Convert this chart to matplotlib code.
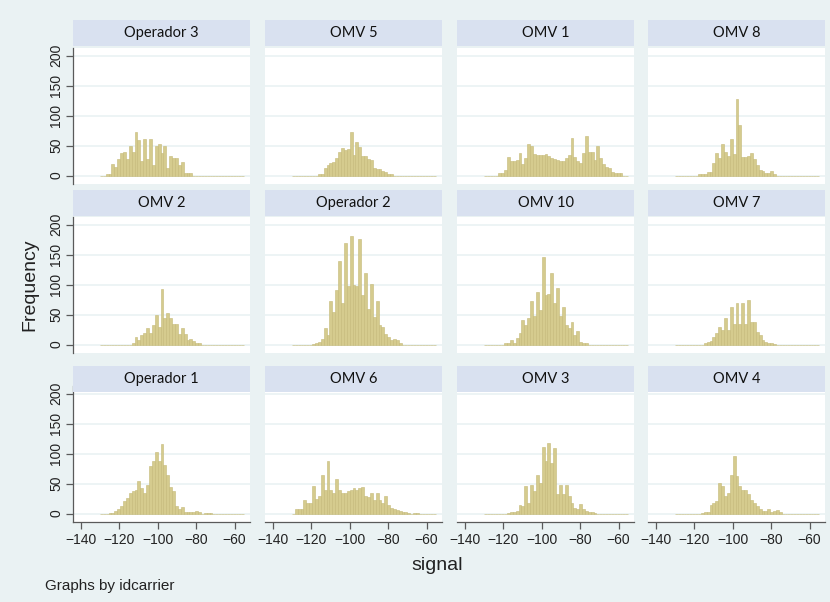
import numpy as np
import matplotlib
matplotlib.use("Agg")
import matplotlib.pyplot as plt

# Histogram bins shared by every panel (signal, dBm)
bin_start = -130.0
bin_width = 1.5
n_bins = 50

panel_titles = ["Operador 3", "OMV 5", "OMV 1", "OMV 8",
                "OMV 2", "Operador 2", "OMV 10", "OMV 7",
                "Operador 1", "OMV 6", "OMV 3", "OMV 4"]

operador3 = [0, 0, 2, 3, 20, 14, 27, 38, 40, 28, 49, 40, 72, 60, 25, 61, 28, 61, 18, 49,
             52, 38, 50, 12, 33, 30, 30, 18, 22, 5, 5, 4, 0, 0, 0, 0, 0, 0, 0, 0,
             0, 0, 0, 0, 0, 0, 0, 0, 0, 0]
omv5 = [0, 0, 0, 0, 0, 0, 0, 0, 0, 2, 3, 12, 18, 21, 22, 29, 40, 46, 43, 44,
        73, 35, 56, 47, 32, 33, 28, 26, 12, 11, 11, 8, 6, 3, 2, 0, 0, 0, 0, 0,
        0, 0, 0, 0, 0, 0, 0, 0, 0, 0]
omv1 = [0, 0, 0, 0, 0, 4, 5, 10, 31, 25, 25, 26, 37, 19, 30, 52, 50, 36, 35, 35,
        35, 36, 33, 29, 28, 26, 25, 25, 30, 35, 62, 31, 25, 21, 38, 66, 40, 40, 26, 50,
        30, 19, 15, 12, 6, 4, 4, 4, 0, 0]
omv8 = [0, 0, 0, 0, 0, 0, 0, 0, 2, 3, 3, 6, 6, 21, 38, 29, 52, 40, 32, 61,
        36, 128, 84, 31, 31, 32, 37, 28, 18, 10, 7, 4, 4, 8, 3, 0, 0, 0, 0, 0,
        0, 0, 0, 0, 0, 0, 0, 0, 0, 0]
omv2 = [0, 0, 0, 0, 0, 0, 0, 0, 0, 0, 0, 3, 13, 8, 16, 20, 27, 20, 32, 49,
        30, 92, 44, 53, 44, 35, 35, 18, 28, 18, 7, 10, 6, 3, 2, 0, 0, 0, 0, 0,
        0, 0, 0, 0, 0, 0, 0, 0, 0, 0]
operador2 = [0, 0, 0, 0, 0, 0, 0, 1, 2, 4, 10, 27, 16, 73, 55, 91, 140, 69, 169, 97,
             182, 99, 97, 176, 83, 119, 60, 102, 46, 72, 32, 30, 18, 13, 7, 10, 7, 2, 0, 0,
             0, 0, 0, 0, 0, 0, 0, 0, 0, 0]
omv10 = [0, 0, 0, 0, 0, 0, 0, 2, 2, 7, 3, 11, 20, 41, 32, 45, 73, 47, 88, 58,
         146, 83, 85, 119, 69, 94, 47, 62, 32, 27, 38, 16, 23, 4, 3, 2, 0, 0, 0, 0,
         0, 0, 0, 0, 0, 0, 0, 0, 0, 0]
omv7 = [0, 0, 0, 0, 0, 0, 0, 0, 0, 0, 2, 4, 6, 12, 20, 30, 24, 45, 24, 62,
        35, 69, 35, 69, 35, 74, 38, 38, 21, 16, 8, 4, 3, 2, 1, 0, 0, 0, 0, 0,
        0, 0, 0, 0, 0, 0, 0, 0, 0, 0]
operador1 = [0, 0, 0, 1, 1, 4, 7, 12, 21, 26, 35, 37, 40, 55, 43, 35, 48, 79, 87, 103,
             87, 116, 81, 65, 44, 38, 12, 8, 11, 3, 2, 2, 2, 5, 2, 0, 1, 1, 1, 0,
             0, 0, 0, 0, 0, 0, 0, 0, 0, 0]
omv6 = [0, 8, 8, 8, 22, 18, 18, 46, 25, 30, 65, 40, 87, 40, 35, 57, 40, 35, 34, 37,
        40, 42, 40, 43, 45, 30, 28, 35, 22, 35, 22, 18, 30, 15, 10, 8, 6, 4, 3, 2,
        1, 0, 1, 1, 0, 0, 0, 0, 0, 0]
omv3 = [0, 0, 0, 0, 0, 0, 0, 0, 1, 2, 2, 5, 15, 12, 46, 18, 48, 37, 65, 51,
        112, 87, 118, 85, 110, 32, 48, 32, 48, 30, 18, 9, 8, 16, 7, 4, 3, 2, 1, 0,
        0, 0, 0, 0, 0, 0, 0, 0, 0, 0]
omv4 = [0, 0, 0, 0, 0, 0, 0, 0, 0, 1, 2, 3, 15, 18, 21, 51, 46, 29, 35, 65,
        96, 62, 46, 40, 40, 32, 23, 18, 12, 8, 4, 5, 8, 3, 4, 6, 2, 0, 0, 0,
        0, 0, 0, 0, 0, 0, 0, 0, 0, 0]

panel_counts = [operador3, omv5, omv1, omv8,
                omv2, operador2, omv10, omv7,
                operador1, omv6, omv3, omv4]

x_ticks = [-140, -120, -100, -80, -60]
y_ticks = [0, 50, 100, 150, 200]

# Styling
BG = "#eaf2f3"
STRIP = "#d9e1f0"
BAR = "#d5cb8e"
BAR_EDGE = "#c4b978"
GRID = "#eaf2f3"
AXIS = "#5a5a5a"
TEXT = "#222222"
AX_FONT = ["Liberation Sans", "DejaVu Sans"]
STRIP_FONT = ["Lato", "DejaVu Sans"]

W, H = 830, 602
fig = plt.figure(figsize=(W / 100, H / 100), dpi=100)
fig.patch.set_facecolor(BG)

edges = bin_start + bin_width * np.arange(n_bins + 1)

col_left = [73, 265, 457, 648]
panel_w = 177
row_top = [48, 217, 386]
panel_h = 136
strip_bottom = [46, 216, 392]
strip_h = 26


def frac_box(left, top, width, height):
    return [left / W, 1 - (top + height) / H, width / W, height / H]


for idx, (title, counts) in enumerate(zip(panel_titles, panel_counts)):
    r, c = divmod(idx, 4)
    left, top = col_left[c], row_top[r]

    ax = fig.add_axes(frac_box(left, top, panel_w, panel_h))
    ax.set_facecolor("white")
    ax.bar(edges[:-1], counts, width=bin_width, align="edge",
           color=BAR, edgecolor=BAR_EDGE, linewidth=0.4, zorder=2)
    ax.set_xlim(-144, -52)
    ax.set_ylim(-14, 213)
    ax.set_yticks(y_ticks)
    ax.set_xticks(x_ticks)
    ax.yaxis.grid(True, color=GRID, linewidth=1.2, zorder=0)
    ax.set_axisbelow(True)
    for s in ax.spines.values():
        s.set_visible(False)

    if c == 0:
        ax.spines["left"].set_visible(True)
        ax.spines["left"].set_color(AXIS)
        ax.spines["left"].set_linewidth(0.9)
        ax.tick_params(axis="y", length=5, width=0.9, color=AXIS, pad=2,
                       labelsize=10, labelcolor=TEXT)
        for lab in ax.get_yticklabels():
            lab.set_rotation(90)
            lab.set_verticalalignment("center")
            lab.set_family(AX_FONT)
    else:
        ax.tick_params(axis="y", length=0, labelleft=False)

    if r == 2:
        ax.spines["bottom"].set_visible(True)
        ax.spines["bottom"].set_color(AXIS)
        ax.spines["bottom"].set_linewidth(0.9)
        ax.tick_params(axis="x", length=5, width=0.9, color=AXIS, pad=3,
                       labelsize=10, labelcolor=TEXT)
        for lab in ax.get_xticklabels():
            lab.set_family(AX_FONT)
    else:
        ax.tick_params(axis="x", length=0, labelbottom=False)

    # Panel header strip
    sb = strip_bottom[r]
    sax = fig.add_axes(frac_box(left, sb - strip_h, panel_w, strip_h))
    sax.set_facecolor(STRIP)
    sax.set_xticks([])
    sax.set_yticks([])
    for s in sax.spines.values():
        s.set_visible(False)
    sax.text(0.5, 0.5, title, ha="center", va="center", fontsize=10.5,
             color="#111111", family=STRIP_FONT, transform=sax.transAxes)

fig.text(30 / W, 1 - 285 / H, "Frequency", rotation=90, ha="center", va="center",
         fontsize=14, color=TEXT, family=AX_FONT)
fig.text(437 / W, 1 - 565 / H, "signal", ha="center", va="center",
         fontsize=14, color=TEXT, family=AX_FONT)
fig.text(45 / W, 1 - 586 / H, "Graphs by idcarrier", ha="left", va="center",
         fontsize=11, color=TEXT, family=AX_FONT)

fig.savefig("out.png", dpi=100, facecolor=BG)
